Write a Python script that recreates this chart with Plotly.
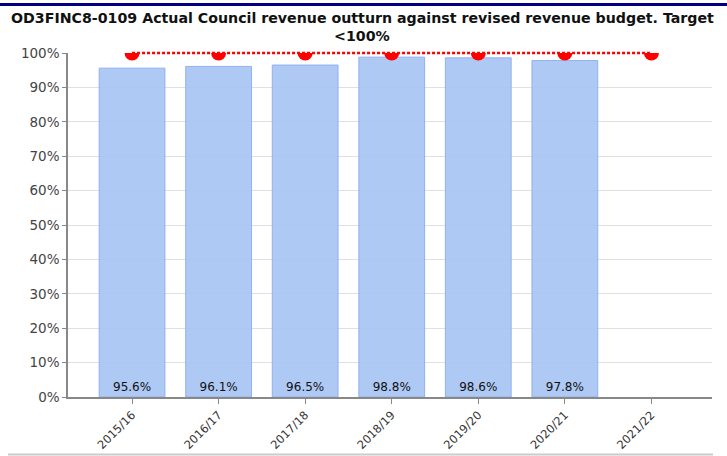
import plotly.graph_objects as go

categories = ["2015/16", "2016/17", "2017/18", "2018/19", "2019/20", "2020/21", "2021/22"]
actual = [95.6, 96.1, 96.5, 98.8, 98.6, 97.8, None]
target = [100, 100, 100, 100, 100, 100, 100]
labels = ["95.6%", "96.1%", "96.5%", "98.8%", "98.6%", "97.8%", ""]
y_ticks = [0, 10, 20, 30, 40, 50, 60, 70, 80, 90, 100]
y_tick_text = [f"{v}%" for v in y_ticks]
title_line1 = "OD3FINC8-0109 Actual Council revenue outturn against revised revenue budget. Target"
title_line2 = "&lt;100%"

FONT = "DejaVu Sans"

fig = go.Figure()
fig.add_trace(go.Bar(
    x=categories, y=actual, width=0.76,
    marker=dict(color="rgba(168,196,244,0.92)", line=dict(color="rgba(140,175,240,0.95)", width=1)),
    text=labels, textposition="inside", insidetextanchor="start",
    textfont=dict(family=FONT, size=12, color="#111111"),
    textangle=0, hoverinfo="skip", showlegend=False,
))
fig.add_trace(go.Scatter(
    x=categories, y=target, mode="markers",
    marker=dict(color="#ff0000", size=15),
    cliponaxis=True, showlegend=False,
))

# dotted target line (not clipped vertically so it shows at the top edge)
fig.add_shape(type="line", xref="x", yref="paper",
              x0=categories[0], x1=categories[-1], y0=1, y1=1,
              line=dict(color="#ff0000", width=2.5, dash="3px,2px"))

# paper coordinates for decorative border lines
H = 344.0
W = 644.0
fig.add_shape(type="line", xref="paper", yref="paper",
              x0=-68 / W, x1=(727 - 68) / W, y0=(397 - 4.5) / H, y1=(397 - 4.5) / H,
              line=dict(color="#000080", width=3))
fig.add_shape(type="line", xref="paper", yref="paper",
              x0=(8 - 68) / W, x1=(713 - 68) / W, y0=(397 - 454.5) / H, y1=(397 - 454.5) / H,
              line=dict(color="#cccccc", width=2))

tx = (362 - 68) / W
fig.add_annotation(text=f"<b>{title_line1}</b>", xref="paper", yref="paper",
                   x=tx, y=(397 - 18) / H, xanchor="center", yanchor="middle",
                   showarrow=False, font=dict(family=FONT, size=14.2, color="#111111"))
fig.add_annotation(text=f"<b>{title_line2}</b>", xref="paper", yref="paper",
                   x=tx, y=(397 - 36) / H, xanchor="center", yanchor="middle",
                   showarrow=False, font=dict(family=FONT, size=14.2, color="#111111"))

fig.update_layout(
    width=727, height=456,
    margin=dict(l=68, r=15, t=53, b=59),
    paper_bgcolor="white", plot_bgcolor="white",
    xaxis=dict(
        type="category", range=[-0.74, 6.7], automargin=False,
        showline=True, linecolor="#888888", linewidth=1.5,
        ticks="outside", ticklen=5, tickcolor="#888888",
        tickangle=-45, tickfont=dict(family=FONT, size=11.5, color="#333333"),
        showgrid=False,
    ),
    yaxis=dict(
        range=[0, 100], tickvals=y_ticks, ticktext=y_tick_text, automargin=False,
        showline=True, linecolor="#888888", linewidth=1.5,
        ticks="outside", ticklen=4, tickcolor="#888888",
        tickfont=dict(family=FONT, size=13.5, color="#444444"),
        showgrid=True, gridcolor="#e0e0e0", gridwidth=1, zeroline=False,
    ),
)

fig.write_html("out.html", config={"displayModeBar": False},
               post_script="document.body.style.margin='0';")
